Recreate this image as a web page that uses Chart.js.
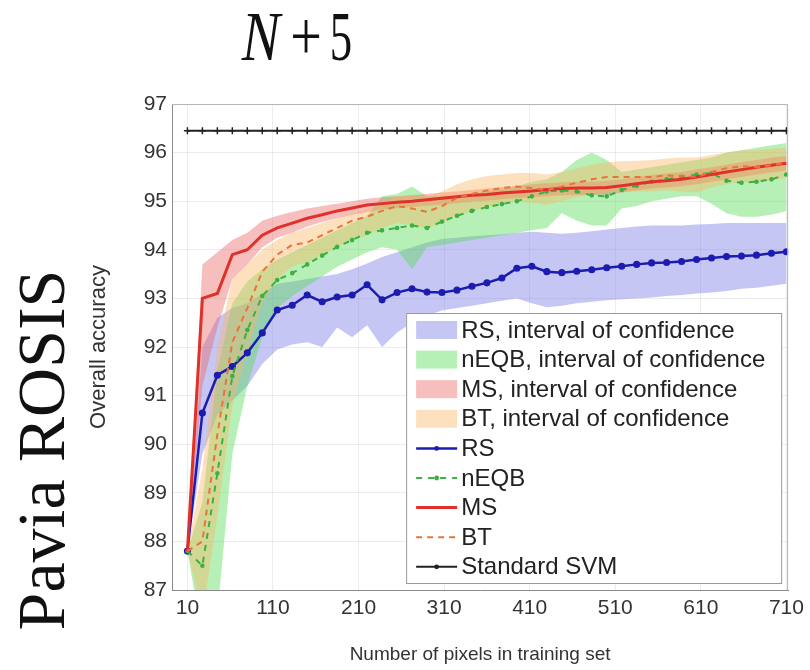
<!DOCTYPE html>
<html>
<head>
<meta charset="utf-8">
<script src="https://cdn.jsdelivr.net/npm/chart.js"></script>
<style>
  html, body { margin: 0; padding: 0; background: #fff; }
</style>
</head>
<body>
<canvas id="myChart" width="810" height="670"></canvas>
<script>
// ---- data ----
var xVals = [10, 27.5, 45, 62.5, 80, 97.5, 115, 132.5, 150, 167.5, 185, 202.5, 220, 237.5, 255, 272.5, 290, 307.5, 325, 342.5,
             360, 377.5, 395, 412.5, 430, 447.5, 465, 482.5, 500, 517.5, 535, 552.5, 570, 587.5, 605, 622.5, 640, 657.5, 675, 692.5, 710];
var xTicks = [10, 110, 210, 310, 410, 510, 610, 710];

var rsMean = [87.8, 90.64, 91.42, 91.6, 91.88, 92.29, 92.76, 92.86, 93.07, 92.93, 93.03, 93.07, 93.28, 92.97, 93.12, 93.2, 93.13, 93.12, 93.17, 93.25,
              93.32, 93.42, 93.62, 93.66, 93.55, 93.53, 93.56, 93.59, 93.63, 93.66, 93.7, 93.73, 93.74, 93.76, 93.8, 93.83, 93.86, 93.87, 93.89, 93.93, 93.96];
var neqbMean = [87.8, 87.5, 89.4, 91.4, 92.35, 93.05, 93.38, 93.52, 93.7, 93.88, 94.06, 94.2, 94.35, 94.4, 94.45, 94.5, 94.45, 94.58, 94.7, 94.8,
                94.88, 94.94, 95.0, 95.1, 95.2, 95.22, 95.2, 95.12, 95.1, 95.23, 95.32, 95.4, 95.45, 95.5, 95.55, 95.58, 95.42, 95.38, 95.4, 95.45, 95.55];
var msMean = [87.8, 93.0, 93.1, 93.9, 94.0, 94.3, 94.45, 94.55, 94.65, 94.72, 94.8, 94.86, 94.92, 94.95, 94.98, 95.0, 95.03, 95.06, 95.09, 95.12,
              95.14, 95.17, 95.19, 95.21, 95.24, 95.26, 95.27, 95.27, 95.28, 95.32, 95.36, 95.4, 95.42, 95.45, 95.5, 95.55, 95.6, 95.65, 95.7, 95.74, 95.78];
var btMean = [87.8, 88.0, 90.2, 92.1, 92.8, 93.55, 93.9, 94.1, 94.15, 94.3, 94.45, 94.6, 94.68, 94.8, 94.9, 94.85, 94.78, 94.9, 95.07, 95.15,
              95.22, 95.27, 95.3, 95.27, 95.23, 95.3, 95.38, 95.45, 95.5, 95.5, 95.5, 95.5, 95.53, 95.52, 95.5, 95.6, 95.68, 95.72, 95.7, 95.74, 95.79];
var svmVals = [96.45, 96.45, 96.45, 96.45, 96.45, 96.45, 96.45, 96.45, 96.45, 96.45, 96.45, 96.45, 96.45, 96.45, 96.45, 96.45, 96.45, 96.45, 96.45, 96.45,
               96.45, 96.45, 96.45, 96.45, 96.45, 96.45, 96.45, 96.45, 96.45, 96.45, 96.45, 96.45, 96.45, 96.45, 96.45, 96.45, 96.45, 96.45, 96.45, 96.45, 96.45];

// intervals of confidence (upper / lower)
var rsHi = [87.8, 92.0, 92.6, 92.8, 92.9, 93.1, 93.3, 93.35, 93.4, 93.45, 93.5, 93.6, 93.72, 93.85, 93.95, 94.05, 94.15, 94.22, 94.25, 94.28,
            94.3, 94.32, 94.35, 94.37, 94.35, 94.33, 94.35, 94.38, 94.42, 94.45, 94.48, 94.5, 94.5, 94.5, 94.52, 94.53, 94.55, 94.55, 94.55, 94.55, 94.55];
var rsLo = [87.8, 89.8, 90.6, 90.9, 91.2, 91.65, 91.95, 92.05, 92.1, 92.0, 92.4, 92.2, 92.45, 92.0, 92.3, 92.5, 92.65, 92.75, 92.8, 92.85,
            92.9, 92.95, 93.0, 92.9, 92.82, 92.85, 92.9, 92.93, 92.96, 92.98, 93.0, 93.02, 93.05, 93.07, 93.1, 93.12, 93.15, 93.2, 93.22, 93.26, 93.3];
var neqbHi = [87.8, 88.8, 91.5, 92.9, 93.35, 93.6, 93.8, 93.95, 94.1, 94.25, 94.4, 94.55, 94.7, 95.1, 95.15, 95.3, 95.1, 95.1, 95.1, 95.15,
              95.2, 95.25, 95.3, 95.4, 95.45, 95.6, 95.85, 96.0, 95.85, 95.6, 95.65, 95.7, 95.75, 95.8, 95.85, 95.9, 96.0, 96.05, 96.1, 96.15, 96.2];
var neqbLo = [87.8, 86.0, 86.5, 89.8, 91.2, 92.2, 92.8, 93.05, 93.25, 93.45, 93.65, 93.8, 93.95, 94.05, 94.0, 93.6, 94.05, 94.1, 94.15, 94.2,
              94.25, 94.3, 94.35, 94.4, 94.45, 94.75, 94.6, 94.5, 94.5, 94.85, 94.9, 95.0, 95.05, 95.1, 95.1, 94.95, 94.75, 94.68, 94.68, 94.72, 94.8];
var msHi = [87.8, 93.7, 93.95, 94.2, 94.35, 94.6, 94.7, 94.78, 94.85, 94.9, 94.95, 95.0, 95.05, 95.08, 95.1, 95.12, 95.15, 95.18, 95.2, 95.23,
            95.26, 95.29, 95.32, 95.35, 95.37, 95.39, 95.4, 95.4, 95.42, 95.45, 95.5, 95.54, 95.57, 95.6, 95.65, 95.7, 95.75, 95.8, 95.85, 95.9, 95.93];
var msLo = [87.8, 91.2, 92.4, 93.4, 93.7, 94.05, 94.25, 94.35, 94.48, 94.57, 94.65, 94.72, 94.78, 94.83, 94.86, 94.88, 94.9, 94.93, 94.96, 94.99,
            95.01, 95.04, 95.06, 95.08, 95.1, 95.12, 95.13, 95.13, 95.14, 95.18, 95.22, 95.26, 95.28, 95.31, 95.35, 95.4, 95.45, 95.5, 95.55, 95.59, 95.63];
var btHi = [87.8, 89.5, 92.0, 93.4, 93.7, 94.0, 94.2, 94.35, 94.45, 94.55, 94.65, 94.75, 94.85, 94.95, 95.1, 95.1, 95.1, 95.2, 95.35, 95.45,
            95.52, 95.55, 95.58, 95.58, 95.55, 95.6, 95.68, 95.75, 95.8, 95.82, 95.83, 95.85, 95.88, 95.9, 95.9, 95.95, 96.0, 96.05, 96.05, 96.08, 96.1];
var btLo = [87.8, 86.5, 88.5, 90.8, 91.9, 92.9, 93.4, 93.65, 93.75, 93.9, 94.05, 94.2, 94.3, 94.45, 94.55, 94.5, 94.45, 94.55, 94.7, 94.8,
            94.88, 94.95, 95.0, 94.97, 94.92, 95.0, 95.08, 95.15, 95.2, 95.2, 95.2, 95.2, 95.22, 95.2, 95.18, 95.28, 95.35, 95.4, 95.38, 95.42, 95.48];

var SANS = '"Liberation Sans", Arial, Helvetica, sans-serif';
var SERIF = '"Liberation Serif", "Times New Roman", serif';

function pts(arr) {
  return xVals.map(function(x, i) { return {x: x, y: arr[i]}; });
}

function band(label, hi, lo, color, order, legendIndex) {
  return [
    {label: label, data: pts(hi), fill: '+1', backgroundColor: color, borderColor: 'transparent',
     borderWidth: 0, pointRadius: 0, order: order, legendIndex: legendIndex, isBand: true},
    {label: '', data: pts(lo), fill: false, borderColor: 'transparent', borderWidth: 0, pointRadius: 0, order: order}
  ];
}

var datasets = [].concat(
  band('RS, interval of confidence', rsHi, rsLo, 'rgba(120,120,230,0.42)', 14, 0),
  band('nEQB, interval of confidence', neqbHi, neqbLo, 'rgba(80,220,80,0.42)', 13, 1),
  band('MS, interval of confidence', msHi, msLo, 'rgba(235,100,100,0.42)', 12, 2),
  band('BT, interval of confidence', btHi, btLo, 'rgba(250,180,100,0.42)', 11, 3),
  [
    {label: 'RS', data: pts(rsMean), borderColor: '#1c1cb0', backgroundColor: '#1c1cb0', borderWidth: 2.5,
     pointRadius: 2.3, pointStyle: 'circle', fill: false, order: 4, legendIndex: 4},
    {label: 'nEQB', data: pts(neqbMean), borderColor: '#3cb043', backgroundColor: '#3cb043', borderWidth: 2,
     borderDash: [6, 6], pointRadius: 1.3, fill: false, order: 3, legendIndex: 5},
    {label: 'MS', data: pts(msMean), borderColor: '#e0302a', backgroundColor: '#e0302a', borderWidth: 3,
     pointRadius: 0, fill: false, order: 2, legendIndex: 6},
    {label: 'BT', data: pts(btMean), borderColor: '#e8743b', backgroundColor: '#e8743b', borderWidth: 2,
     borderDash: [6, 5], pointRadius: 0, fill: false, order: 1, legendIndex: 7},
    {label: 'Standard SVM', data: pts(svmVals), borderColor: '#222', backgroundColor: '#222', borderWidth: 2,
     pointRadius: 3.5, pointStyle: 'cross', pointBorderWidth: 1.5, fill: false, order: 5, legendIndex: 8}
  ]
);

// frame, legend box inside the axes, and the serif headings
var paperPlugin = {
  id: 'paper',
  afterDatasetsDraw: function(chart) {
    var ctx = chart.ctx, a = chart.chartArea;
    ctx.save();
    ctx.strokeStyle = '#b5b5b5';
    ctx.lineWidth = 1;
    ctx.beginPath();
    ctx.moveTo(a.left, a.top + 0.5); ctx.lineTo(a.right - 0.5, a.top + 0.5); ctx.lineTo(a.right - 0.5, a.bottom);
    ctx.stroke();

    var bw = 375, bh = 270;
    var bx = a.right - bw - 7, by = a.bottom - bh - 7;
    ctx.fillStyle = '#fff';
    ctx.fillRect(bx, by, bw, bh);
    ctx.strokeStyle = '#9a9a9a';
    ctx.strokeRect(bx + 0.5, by + 0.5, bw, bh);

    var items = chart.data.datasets.filter(function(d) { return d.legendIndex != null; })
      .sort(function(p, q) { return p.legendIndex - q.legendIndex; });
    ctx.font = '24px ' + SANS;
    ctx.textBaseline = 'middle';
    ctx.textAlign = 'left';
    items.forEach(function(d, k) {
      var cy = by + 17 + k * 29.6;
      var sx = bx + 10, sw = 41;
      if (d.isBand) {
        ctx.fillStyle = d.backgroundColor;
        ctx.fillRect(sx, cy - 9, sw, 18);
      } else {
        ctx.setLineDash(d.borderDash || []);
        ctx.strokeStyle = d.borderColor;
        ctx.lineWidth = d.borderWidth;
        ctx.beginPath(); ctx.moveTo(sx, cy); ctx.lineTo(sx + sw, cy); ctx.stroke();
        ctx.setLineDash([]);
        if (d.pointRadius > 0) {
          ctx.fillStyle = d.borderColor;
          ctx.beginPath(); ctx.arc(sx + sw / 2, cy, 2.4, 0, Math.PI * 2); ctx.fill();
        }
      }
      ctx.fillStyle = '#222';
      ctx.fillText(d.label, bx + 55, cy + 1);
    });
    ctx.restore();
  },
  afterDraw: function(chart) {
    var ctx = chart.ctx;
    // N + 5, each glyph fitted to its place
    var glyphs = [
      {t: 'N', font: 'italic 70px ' + SERIF, cx: 261, sx: 0.82},
      {t: '+', font: '70px ' + SERIF, cx: 306, sx: 0.8},
      {t: '5', font: '70px ' + SERIF, cx: 341, sx: 0.64}
    ];
    glyphs.forEach(function(g) {
      ctx.save();
      ctx.fillStyle = '#111';
      ctx.font = g.font;
      ctx.textAlign = 'center';
      ctx.textBaseline = 'alphabetic';
      ctx.translate(g.cx, 60);
      ctx.scale(g.sx, 1);
      ctx.fillText(g.t, 0, 0);
      ctx.restore();
    });

    ctx.save();
    ctx.fillStyle = '#111';
    ctx.translate(64, 450);
    ctx.rotate(-Math.PI / 2);
    ctx.font = '68px ' + SERIF;
    ctx.textAlign = 'center';
    ctx.textBaseline = 'alphabetic';
    ctx.fillText('Pavia ROSIS', 0, 0);
    ctx.restore();
  }
};

var myChart = new Chart(document.getElementById('myChart'), {
  type: 'line',
  data: {datasets: datasets},
  options: {
    responsive: false,
    animation: false,
    layout: {padding: {left: 86, right: 21, top: 104, bottom: 0}},
    elements: {line: {tension: 0}},
    plugins: {legend: {display: false}, tooltip: {enabled: false}, title: {display: false}},
    scales: {
      x: {
        type: 'linear', min: -8, max: 712,
        afterBuildTicks: function(s) { s.ticks = xTicks.map(function(v) { return {value: v}; }); },
        afterFit: function(s) { s.height = 80; },
        grid: {color: 'rgba(0,0,0,0.07)', drawTicks: false},
        border: {color: '#8a8a8a'},
        ticks: {autoSkip: false, maxRotation: 0, padding: 6, color: '#333', font: {family: SANS, size: 21}},
        title: {display: true, text: 'Number of pixels in training set', color: '#333',
                font: {family: SANS, size: 19}, padding: {top: 0, bottom: 4}}
      },
      y: {
        min: 87, max: 97,
        afterFit: function(s) { s.width = 86; },
        grid: {color: 'rgba(0,0,0,0.07)', drawTicks: false},
        border: {color: '#8a8a8a'},
        ticks: {stepSize: 1, padding: 5, color: '#333', font: {family: SANS, size: 21}},
        title: {display: true, text: 'Overall accuracy', color: '#333',
                font: {family: SANS, size: 22}, padding: {top: 0, bottom: 0}}
      }
    }
  },
  plugins: [paperPlugin]
});
</script>
</body>
</html>
